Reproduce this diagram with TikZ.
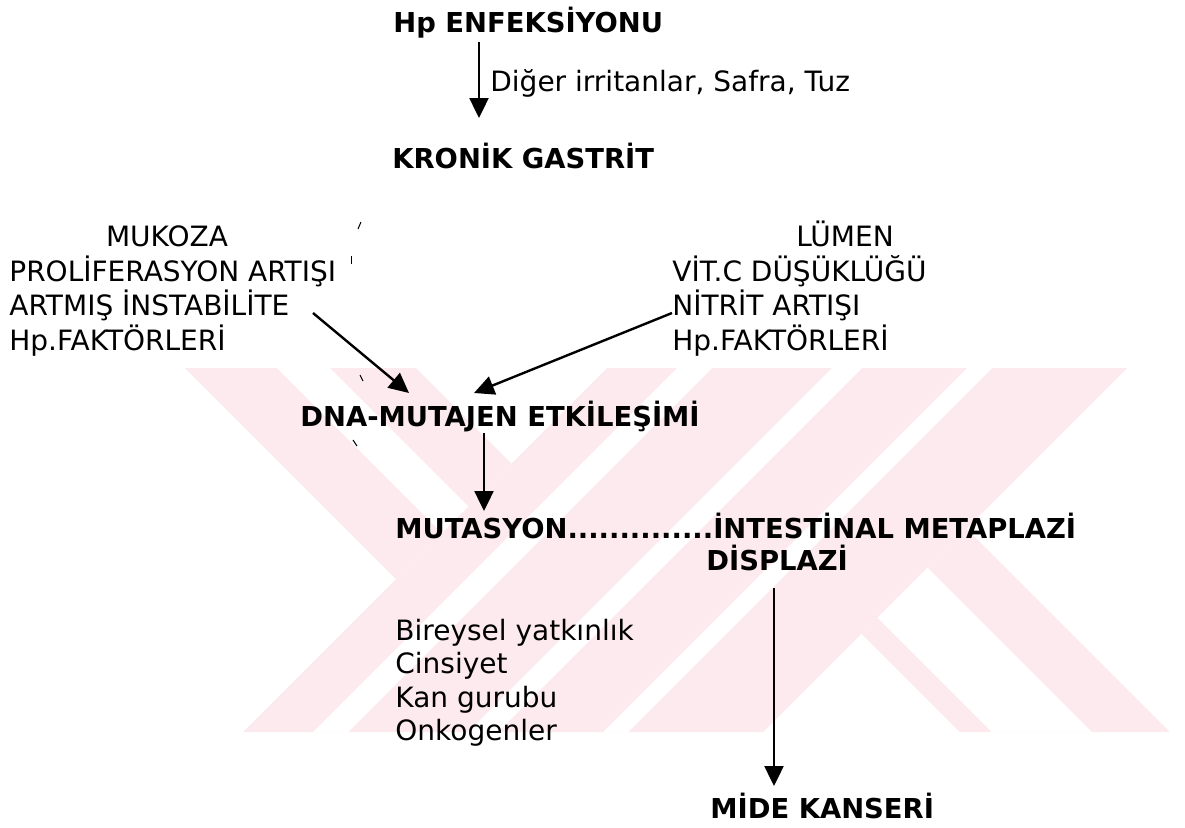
\documentclass[tikz,border=0pt]{standalone}
\usepackage{fontspec}
\setmainfont{DejaVu Sans}
\usetikzlibrary{arrows.meta}
\definecolor{wmpink}{RGB}{252,234,238}
\begin{document}
\begin{tikzpicture}[x=0.5pt,y=-0.5pt,
  txt/.style={inner sep=0pt, anchor=base west, font=\fontsize{14}{16}\selectfont},
  ttl/.style={inner sep=0pt, anchor=base west, font=\fontsize{13.7}{16}\selectfont\bfseries},
  flow/.style={line width=1.2pt, -{Triangle[length=10pt,width=9.5pt]}},
  speck/.style={line width=0.5pt},
  gap/.style={fill=white},
  band/.style={fill=wmpink}]
\useasboundingbox (0,0) rectangle (1185,827);
\fill[white] (0,0) rectangle (1185,827);

% background emblem: crossed 45 degree bands with light gaps
\begin{scope}
  \clip (0,368) rectangle (1185,732);
  % falling band of the left cross, with its gap
  \path[band] (185,368) -- (416,368) -- (511.5,463.5) -- (396,579) -- cycle;
  \path[gap] (277,368) -- (330,368) -- (468.5,506.5) -- (442,533) -- cycle;
  % wide rising band
  \path[band] (607,368) -- (1127,368) -- (763,732) -- (243,732) -- cycle;
  \path[gap] (677,368) -- (712,368) -- (348,732) -- (313,732) -- cycle;
  \path[gap] (832,368) -- (862,368) -- (498,732) -- (468,732) -- cycle;
  \path[gap] (967,368) -- (992,368) -- (628,732) -- (603,732) -- cycle;
  % falling band on the right, with its gap
  \path[band] (966.5,528.5) -- (1170,732) -- (960,732) -- (861.5,633.5) -- cycle;
  \path[gap] (927.5,567.5) -- (1092,732) -- (992,732) -- (877.5,617.5) -- cycle;
\end{scope}

% titles
\node[ttl] (hp) at (393,32) {Hp ENFEKSİYONU};
\node[txt] (irr) at (490,91) {Diğer irritanlar, Safra, Tuz};
\node[ttl] (kg) at (392,168) {KRONİK GASTRİT};

% mucosal factors
\node[txt, anchor=base] (muk) at (167,246) {MUKOZA};
\node[txt] (m1) at (9,281) {PROLİFERASYON ARTIŞI};
\node[txt] (m2) at (9,315) {ARTMIŞ İNSTABİLİTE};
\node[txt] (m3) at (9,350) {Hp.FAKTÖRLERİ};

% luminal factors
\node[txt, anchor=base] (lum) at (845,246) {LÜMEN};
\node[txt] (l1) at (672,281) {VİT.C DÜŞÜKLÜĞÜ};
\node[txt] (l2) at (672,315) {NİTRİT ARTIŞI};
\node[txt] (l3) at (672,350) {Hp.FAKTÖRLERİ};

\node[ttl] (dna) at (300,426) {DNA-MUTAJEN ETKİLEŞİMİ};
\node[ttl] (mut) at (395,538) {MUTASYON..............İNTESTİNAL METAPLAZİ};
\node[ttl] (dis) at (706,570) {DİSPLAZİ};

\node[txt] (r1) at (395,640) {Bireysel yatkınlık};
\node[txt] (r2) at (395,673) {Cinsiyet};
\node[txt] (r3) at (395,707) {Kan gurubu};
\node[txt] (r4) at (395,740) {Onkogenler};

\node[ttl] (mk) at (710,818) {MİDE KANSERİ};

% arrow end points
\coordinate (a1s) at (479,42);
\coordinate (a1e) at (479,118);
\coordinate (a2s) at (313,313);
\coordinate (a2e) at (409,393);
\coordinate (a3s) at (672,313);
\coordinate (a3e) at (474,393);
\coordinate (a4s) at (484,433);
\coordinate (a4e) at (484,511);
\coordinate (a5s) at (774,588);
\coordinate (a5e) at (774,786);

\draw[flow] (a1s) -- (a1e);
\draw[flow] (a2s) -- (a2e);
\draw[flow] (a3s) -- (a3e);
\draw[flow] (a4s) -- (a4e);
\draw[flow] (a5s) -- (a5e);

% small specks
\draw[speck] (358,229) -- (361,222);
\draw[speck] (351,256) -- (351,264);
\draw[speck] (360,375) -- (363,381);
\draw[speck] (353,440) -- (357,446);
\end{tikzpicture}
\end{document}
